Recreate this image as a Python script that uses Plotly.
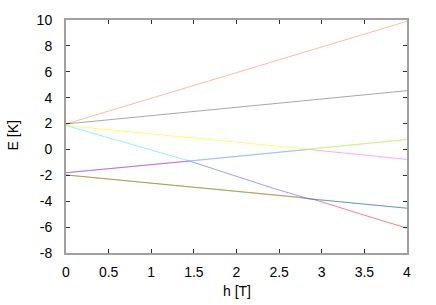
import plotly.graph_objects as go

# Field values (h, in T) and energy levels (E, in K)
h_orange = [0, 4]
e_orange = [1.97, 9.9]

h_black = [0, 4]
e_black = [1.97, 4.54]

h_yellow = [0, 2.85, 4]
e_yellow = [1.85, 0.02, 0.77]

h_cyan = [0, 1.45, 2.85, 4]
e_cyan = [1.85, -0.9, 0.02, 0.77]

h_magenta = [0, 1.45, 2.85, 4]
e_magenta = [-1.8, -0.9, 0.0, -0.77]

h_blue = [0, 1.45, 2.43, 2.85, 4]
e_blue = [-1.8, -0.9, -3.0, -3.82, -4.54]

h_green = [0, 2.75, 4]
e_green = [-1.97, -3.7, -4.54]

h_red = [0, 2.5, 2.75, 2.9, 3.0, 3.49, 4]
e_red = [-1.97, -3.52, -3.7, -3.86, -4.05, -5.06, -6.08]

x_ticks = [0, 0.5, 1, 1.5, 2, 2.5, 3, 3.5, 4]
x_tick_labels = ["0", "0.5", "1", "1.5", "2", "2.5", "3", "3.5", "4"]
y_ticks = [-8, -6, -4, -2, 0, 2, 4, 6, 8, 10]
y_tick_labels = ["-8", "-6", "-4", "-2", "0", "2", "4", "6", "8", "10"]

series = [
    (h_red, e_red, "rgba(255,0,0,0.5)"),
    (h_green, e_green, "rgba(0,230,0,0.4)"),
    (h_blue, e_blue, "rgba(40,40,255,0.45)"),
    (h_magenta, e_magenta, "rgba(255,0,255,0.35)"),
    (h_cyan, e_cyan, "rgba(0,235,235,0.45)"),
    (h_yellow, e_yellow, "rgba(255,255,0,0.6)"),
    (h_black, e_black, "rgba(0,0,0,0.35)"),
    (h_orange, e_orange, "rgba(255,110,40,0.45)"),
]

fig = go.Figure()
for hx, ey, col in series:
    fig.add_trace(go.Scatter(x=hx, y=ey, mode="lines",
                             line=dict(color=col, width=1),
                             showlegend=False, hoverinfo="skip"))

font = dict(family="Liberation Sans, Arial, sans-serif", size=14, color="black")
fig.update_layout(
    width=436, height=305,
    margin=dict(l=66, r=29, t=20, b=52),
    paper_bgcolor="white", plot_bgcolor="white",
    font=font,
    annotations=[
        dict(text="h [T]", xref="paper", yref="paper", x=0.5, y=-0.163,
             xanchor="center", yanchor="middle", showarrow=False, font=font),
        dict(text="E [K]", xref="paper", yref="paper", x=-0.155, y=0.505,
             xanchor="center", yanchor="middle", showarrow=False, textangle=-90,
             font=font),
    ],
)
axis_common = dict(
    showgrid=False, zeroline=False, automargin=False,
    showline=True, linecolor="#a0a0a0", linewidth=2, mirror="ticks",
    ticks="inside", ticklen=4, tickcolor="#303030", tickwidth=1,
)
fig.update_xaxes(range=[0, 4], tickvals=x_ticks, ticktext=x_tick_labels,
                 ticklabelstandoff=5, **axis_common)
fig.update_yaxes(range=[-8, 10], tickvals=y_ticks, ticktext=y_tick_labels,
                 ticklabelstandoff=9, **axis_common)

fig.write_html(
    "out.html",
    config={"displayModeBar": False},
    post_script="document.body.style.margin='0';document.body.style.overflow='hidden';",
)
